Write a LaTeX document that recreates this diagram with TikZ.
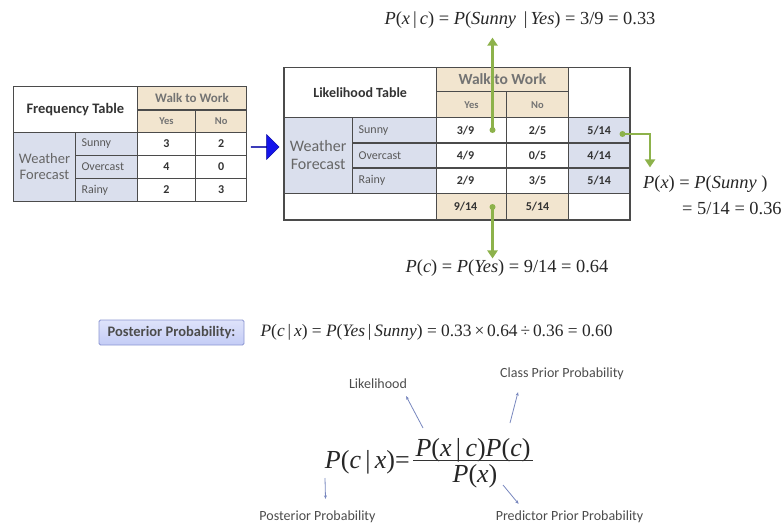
\documentclass[tikz,border=0pt]{standalone}
\usepackage{fontspec}
\setmainfont{Carlito}
\newfontfamily\tms{Liberation Serif}
\usetikzlibrary{arrows.meta, positioning, shapes.arrows, calc}

\definecolor{headtan}{RGB}{242,229,207}
\definecolor{rowblue}{RGB}{218,223,237}
\definecolor{gridgray}{RGB}{75,75,75}
\definecolor{stemgreen}{RGB}{141,178,75}
\definecolor{notegray}{RGB}{120,135,190}
\definecolor{boxblue}{RGB}{196,204,246}
\definecolor{boxedge}{RGB}{140,150,210}
\definecolor{arrowblue}{RGB}{20,20,235}

\newcommand{\mv}[1]{\textit{#1}}

\begin{document}
\begin{tikzpicture}[
    x=1pt, y=-1pt,
    sz/.style 2 args={minimum width=#1pt, minimum height=#2pt},
    cell/.style={draw=gridgray, line width=1.3pt, anchor=north west, inner sep=0pt, align=center, text=black!80, font=\fontsize{12}{13}\selectfont\bfseries},
    headcell/.style={cell, fill=headtan, text=black!55},
    sidecell/.style={cell, fill=rowblue, text=black!60, font=\fontsize{14}{15}\selectfont},
    rowlbl/.style={cell, fill=rowblue, text=black!65, font=\fontsize{12}{13}\selectfont, text width=#1, align=left},
    valcell/.style={cell, fill=white},
    yesval/.style={valcell, execute at end node={\hspace*{12pt}}},
    margcell/.style={cell, fill=rowblue},
    formula/.style={inner sep=0pt, text=black!85, font=\tms\fontsize{18.4}{20}\selectfont},
    bayes/.style={inner sep=0pt, text=black!85, font=\tms\fontsize{26}{28}\selectfont},
    notelbl/.style={inner sep=1pt, text=black!70, font=\fontsize{14}{15}\selectfont},
    stem/.style={draw=stemgreen, line width=2.6pt, -{Triangle[length=8pt, width=10pt]}},
    stemdot/.style={circle, fill=stemgreen, inner sep=0pt, minimum size=6pt},
    note/.style={draw=notegray, line width=0.8pt, -{Stealth[length=3.5pt, width=3pt]}}
]
    \useasboundingbox (0,0) rectangle (784,525);

    % Frequency table
    \node[cell, sz={124}{46}, font=\fontsize{14.5}{16}\selectfont\bfseries] (freqtitle) at (12.7,85.7) {Frequency Table};
    \node[headcell, sz={109.3}{23.6}, font=\fontsize{13}{14}\selectfont\bfseries] (freqwalk) at (136.7,85.7) {Walk to Work};
    \node[headcell, sz={58.3}{22.4}, font=\fontsize{10.5}{11}\selectfont\bfseries] (freqyes) at (136.7,109.3) {Yes};
    \node[headcell, sz={51}{22.4}, font=\fontsize{10.5}{11}\selectfont\bfseries] (freqno) at (195,109.3) {No};
    \node[sidecell, sz={62.3}{69}, font=\fontsize{14.5}{16}\selectfont] (freqweather) at (12.7,131.7) {Weather\\Forecast};
    \node[rowlbl=50pt, sz={61.7}{23}] (freqsunny) at (75,131.7) {Sunny};
    \node[rowlbl=50pt, sz={61.7}{23}] (freqovercast) at (75,154.7) {Overcast};
    \node[rowlbl=50pt, sz={61.7}{23}] (freqrainy) at (75,177.7) {Rainy};
    \node[valcell, sz={58.3}{23}] (freqsunnyyes) at (136.7,131.7) {3};
    \node[valcell, sz={51}{23}] (freqsunnyno) at (195,131.7) {2};
    \node[valcell, sz={58.3}{23}] (freqovercastyes) at (136.7,154.7) {4};
    \node[valcell, sz={51}{23}] (freqovercastno) at (195,154.7) {0};
    \node[valcell, sz={58.3}{23}] (freqrainyyes) at (136.7,177.7) {2};
    \node[valcell, sz={51}{23}] (freqrainyno) at (195,177.7) {3};

    % Pfeil
    \node[single arrow, fill=arrowblue, draw=blue!60!black, line width=0.4pt, inner sep=0pt,
          minimum width=25pt, minimum height=28pt, single arrow head extend=6.5pt] (bigarrow) at (265,147) {};

    % Likelihood table
    \node[cell, sz={152.4}{50.3}, font=\fontsize{14}{15}\selectfont\bfseries] (liketitle) at (283.3,66.7) {Likelihood Table};
    \node[headcell, sz={132}{24.3}, font=\fontsize{15.5}{16}\selectfont\bfseries] (likewalk) at (435.7,66.7) {Walk to Work};
    \node[headcell, sz={70.3}{26}, font=\fontsize{10.5}{11}\selectfont\bfseries] (likeyes) at (435.7,91) {Yes};
    \node[headcell, sz={61.7}{26}, font=\fontsize{10.5}{11}\selectfont\bfseries] (likeno) at (506,91) {No};
    \node[valcell, sz={61.6}{50.3}] (likecornertop) at (567.7,66.7) {};
    \node[sidecell, sz={68.4}{75.6}, font=\fontsize{16}{18}\selectfont] (likeweather) at (283.3,117) {Weather\\Forecast};
    \node[rowlbl=71.4pt, sz={84}{25.2}] (likesunny) at (351.7,117) {Sunny};
    \node[rowlbl=71.4pt, sz={84}{25.2}] (likeovercast) at (351.7,142.2) {Overcast};
    \node[rowlbl=71.4pt, sz={84}{25.2}] (likerainy) at (351.7,167.4) {Rainy};
    \node[yesval, sz={70.3}{25.2}] (likesunnyyes) at (435.7,117) {3/9};
    \node[valcell, sz={61.7}{25.2}] (likesunnyno) at (506,117) {2/5};
    \node[margcell, sz={61.6}{25.2}] (likesunnytot) at (567.7,117) {5/14};
    \node[yesval, sz={70.3}{25.2}] (likeovercastyes) at (435.7,142.2) {4/9};
    \node[valcell, sz={61.7}{25.2}] (likeovercastno) at (506,142.2) {0/5};
    \node[margcell, sz={61.6}{25.2}] (likeovercasttot) at (567.7,142.2) {4/14};
    \node[yesval, sz={70.3}{25.2}] (likerainyyes) at (435.7,167.4) {2/9};
    \node[valcell, sz={61.7}{25.2}] (likerainyno) at (506,167.4) {3/5};
    \node[margcell, sz={61.6}{25.2}] (likerainytot) at (567.7,167.4) {5/14};
    \node[valcell, sz={152.4}{26.7}] (likefoot) at (283.3,192.6) {};
    \node[headcell, sz={70.3}{26.7}, text=black!80, execute at end node={\hspace*{12pt}}] (likeyestot) at (435.7,192.6) {9/14};
    \node[headcell, sz={61.7}{26.7}, text=black!80] (likenotot) at (506,192.6) {5/14};
    \node[valcell, sz={61.6}{26.7}] (likecornerbot) at (567.7,192.6) {};

    % Formeln
    \node[formula] (pxc) at (520,20) {\mv{P}(\mv{x}\,|\,\mv{c}) = \mv{P}(\mv{Sunny}\, |\,\mv{Yes}) = 3/9 = 0.33};
    \node[formula] (pc) at (507,268) {\mv{P}(\mv{c}) = \mv{P}(\mv{Yes}) = 9/14 = 0.64};
    \node[formula, anchor=west] (px) at (643,184) {\mv{P}(\mv{x}) = \mv{P}(\mv{Sunny} )};
    \node[formula, anchor=west] (pxval) at (682,209) {= 5/14 = 0.36};

    \node[stemdot] (dot39) at (492.5,130) {};
    \node[stemdot] (dot914) at (492.5,207) {};
    \node[stemdot] (dot514) at (622.5,134) {};

    \draw[stem, shorten >=9pt] (dot39.center) -- (dot39 |- pxc.south);
    \draw[stem, shorten >=1pt] (dot914.center) -- (dot914 |- pc.north);
    \draw[stem, shorten >=8pt] (dot514.center) -| ([xshift=7pt]px.north west);

    % Posterior
    \node[draw=boxedge, top color=boxblue!55!white, bottom color=boxblue, line width=0.8pt, rounded corners=1.5pt, sz={145}{25}, inner sep=0pt,
          text=black!70, font=\fontsize{14.5}{15}\selectfont\bfseries] (postbox) at (171.5,332.5) {Posterior Probability:};
    \node[formula, right=16pt of postbox, font=\tms\fontsize{17.4}{19}\selectfont] (pcx) {\mv{P}(\mv{c}\,|\,\mv{x}) = \mv{P}(\mv{Yes}\,|\,\mv{Sunny}) = 0.33\,×\,0.64\,÷\,0.36 = 0.60};

    % Bayes
    \node[bayes, anchor=south] (bayesnum) at (473,462) {\mv{P}(\mv{x}\,|\,\mv{c})\mv{P}(\mv{c})};
    \node[bayes, anchor=north] (bayesden) at (475,464) {\mv{P}(\mv{x})};
    \node[bayes, anchor=east] (bayeslhs) at (410,462) {\mv{P}(\mv{c}\,|\,\mv{x})=};
    \draw[line width=1pt, black!80] ($(bayesnum.south west)+(-2,-2)$) -- ($(bayesnum.south east)+(2,-2)$);

    \node[notelbl] (likelihood) at (378,384) {Likelihood};
    \node[notelbl] (classprior) at (562,374) {Class Prior Probability};
    \node[notelbl] (posterior) at (317.5,517) {Posterior Probability};
    \node[notelbl] (predictor) at (569.5,517) {Predictor Prior Probability};

    \coordinate (likfoot) at (423,428);
    \coordinate (classfoot) at (510,423);
    \coordinate (postfoot) at (325,478);
    \coordinate (predfoot) at (503,485);

    \draw[note] (likfoot) -- ([xshift=-2pt, yshift=-6pt]likelihood.south east);
    \draw[note] (classfoot) -- ([xshift=19pt, yshift=-11pt]classprior.south west);
    \draw[note] (postfoot) -- ([xshift=8pt, yshift=11pt]posterior.north);
    \draw[note] (predfoot) -- ([xshift=24pt, yshift=6pt]predictor.north west);

\end{tikzpicture}
\end{document}
